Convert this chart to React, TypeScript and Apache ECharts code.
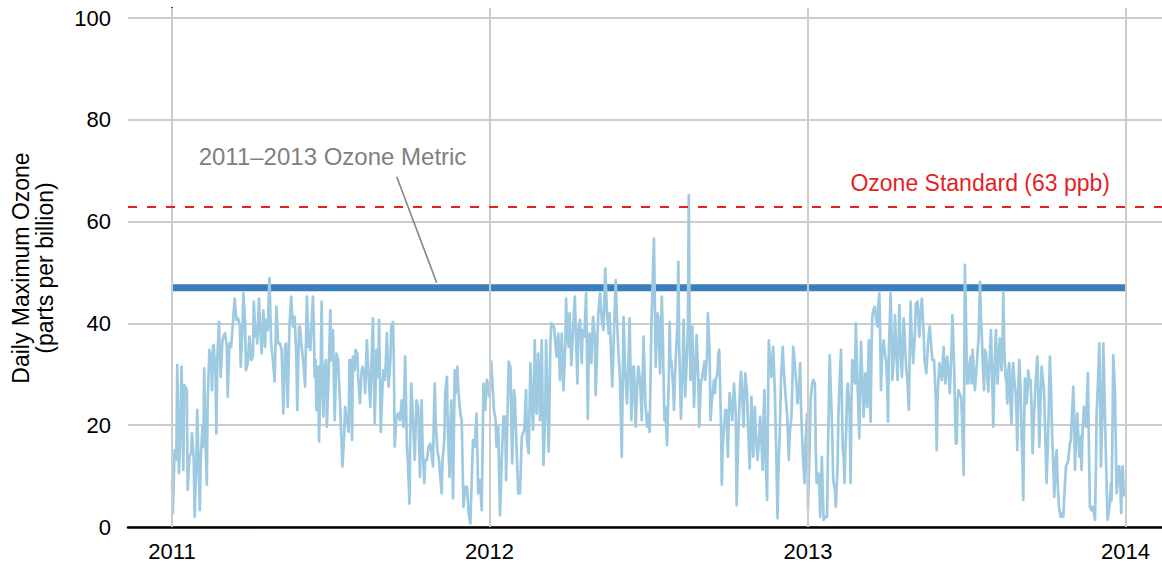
import React, { useEffect, useRef } from 'react';
import * as echarts from 'echarts';

// day index counted from 2011-01-01
const yearStarts = [0, 365, 731, 1096];
const yearLabels = ['2011', '2012', '2013', '2014'];
const metricPpb = 47;
const standardPpb = 63;
const metricLabel = '2011\u20132013 Ozone Metric';
const standardLabel = 'Ozone Standard (63 ppb)';
const yTitle = 'Daily Maximum Ozone\n(parts per billion)';

const ozone2011: [number, number][] = [
  [0,9.2],[1,2.7],[3,15.1],[5,13.2],[6,31.8],[8,10.6],[9,15.8],[11,31.5],[13,11.2],[14,27.9],[15,27.6],[17,26.9],[18,7.3],[20,13.8],[22,14.5],[23,18.4],[25,13.2],[26,2.0],[28,13.2],[29,23.0],[30,15.8],[32,3.3],[33,13.2],[35,19.7],[36,15.8],[37,31.2],[38,19.7],[40,8.3],[41,24.9],[43,34.8],[45,32.8],[46,26.9],[47,35.4],[48,35.8],[50,29.5],[51,18.4],[52,32.8],[54,40.3],[55,34.1],[56,29.5],[58,36.7],[59,37.4],[61,38.1],[63,35.4],[64,25.6],[66,36.1],[68,35.4],[70,40.0],[72,44.9],[74,40.7],[76,41.0],[78,39.4],[79,31.5],[81,38.7],[82,45.9],[84,40.3],[85,30.8],[87,32.2],[89,37.4],[91,32.8],[93,33.5],[94,44.3],[96,37.4],[97,39.4],[98,36.1],[100,44.9],[101,40.7],[103,34.1],[105,42.6],[107,35.4],[108,40.7],[110,38.7],[112,48.9],[114,36.1],[116,32.8],[118,28.6],[120,43.3],[122,36.1],[124,36.1],[126,34.8],[128,22.3],[130,35.4],[131,36.1],[133,23.6],[135,39.4],[137,45.3],[139,39.4],[141,41.3],[143,32.8],[144,23.0],[146,39.4],[147,39.4],[149,35.4],[151,32.2],[153,27.6],
  [155,45.3],[157,35.4],[158,38.7],[159,34.8],[162,45.3],[163,39.4],[164,29.5],[165,32.8],[166,23.0],[168,31.5],[169,16.8],[171,32.8],[172,44.3],[173,27.6],[174,21.7],[175,30.8],[177,32.8],[178,19.7],[180,29.5],[182,42.6],[183,32.8],[185,38.7],[187,21.0],[189,34.1],[191,32.8],[193,24.9],[196,11.9],[198,18.4],[199,23.6],[201,21.0],[203,18.7],[204,32.8],[205,32.8],[207,17.1],[208,33.5],[210,30.8],[211,34.8],[213,34.1],[214,29.5],[216,24.3],[218,30.8],[219,31.5],[221,30.2],[222,26.3],[224,36.7],[226,29.5],[228,23.6],[229,30.8],[231,41.0],[232,29.5],[233,20.4],[235,34.8],[237,29.5],[238,40.7],[240,18.7],[242,27.6],[243,30.8],[245,28.9],[247,38.1],[249,27.6],[251,32.8],[252,39.4],[254,40.3],[255,32.8],[256,15.8],[258,21.7],[260,22.3],[262,21.0],[264,24.9],[266,19.7],[268,33.5],[270,15.8],[271,13.2],[273,4.6],[274,19.7],[275,28.2],[277,21.0],[279,13.2],[281,24.9],[283,23.6],[285,9.9],[287,24.9],[288,15.8],[290,8.6],[291,13.2],[293,13.2],[295,15.8],[297,16.4],[298,15.1],[300,11.9],[301,21.7],[302,28.2],[303,21.0],[305,15.1],[307,13.2],[308,10.6],[310,6.6],[311,13.2],[313,17.1],[314,26.3],[316,29.5],[317,19.7],[319,9.9],[320,19.7],[321,24.9],[323,5.6],[325,30.8],[326,26.3],[328,31.5],[329,27.6],[330,24.9],[332,21.7],[333,21.0],[335,4.0],[337,7.9],[339,7.9],[341,2.7],[343,0.7],[344,6.6],[346,17.1],[348,15.8],[350,22.3],[352,6.6],[354,9.2],[356,3.3],
  [358,28.2],[360,23.0],[362,28.9]
];

const ozone2012: [number, number][] = [
  [365,25.6],[367,32.5],[370,23.0],[372,21.0],[373,15.8],[375,19.7],[377,2.3],[379,13.2],[381,21.7],[383,21.7],[384,9.2],[387,32.5],[389,31.5],[391,12.5],[393,26.9],[394,25.6],[396,15.8],[398,6.6],[400,6.6],[402,17.7],[405,19.1],[407,26.9],[408,17.1],[410,14.5],[412,32.2],[415,19.1],[416,26.3],[417,36.7],[419,22.3],[421,34.1],[423,21.0],[425,36.7],[427,12.2],[429,22.3],[430,36.7],[433,14.8],[435,36.7],[436,40.0],[439,39.4],[441,35.4],[442,33.5],[444,38.0],[446,28.9],[448,38.0],[450,26.9],[452,35.4],[453,44.9],[454,38.7],[456,35.4],[457,42.0],[459,31.8],[461,38.7],[463,45.3],[466,28.2],[467,38.7],[469,40.7],[471,32.2],[472,38.7],[474,37.4],[476,45.9],[478,21.3],[479,35.4],[480,38.0],[482,32.2],[484,41.3],[486,37.4],[487,25.9],[489,36.7],[490,42.0],[492,45.9],[494,40.7],[496,38.7],[498,50.8],[500,42.0],[502,38.0],[503,42.0],[506,27.6],[508,38.0],[510,48.5],[512,38.7],[513,34.8],[515,28.9],[517,13.8],[519,41.3],[521,30.2],[523,24.3],[525,34.1],[526,41.0],[528,21.0],[530,31.5],[531,31.5],[533,19.7],[535,28.9],[536,31.5],[538,28.9],[540,21.0],[542,37.4],[544,24.9],[546,19.7],[548,22.3],[549,18.7],
  [551,39.4],[554,56.7],[556,31.5],[558,42.0],[559,41.3],[561,30.2],[563,45.3],[564,38.7],[566,21.0],[567,23.6],[569,16.1],[571,28.9],[572,40.3],[573,31.5],[574,32.8],[576,27.6],[577,23.0],[578,28.9],[579,32.8],[581,40.0],[582,52.1],[583,35.4],[585,21.3],[587,31.5],[588,40.7],[590,25.6],[592,34.1],[593,39.4],[594,65.2],[595,39.4],[596,28.9],[597,34.1],[598,39.4],[600,23.6],[602,33.5],[603,37.7],[605,28.9],[606,19.7],[608,28.9],[609,28.9],[610,30.2],[612,32.5],[613,28.9],[614,31.5],[615,33.5],[616,42.0],[618,34.1],[619,21.0],[620,23.6],[621,25.6],[623,28.9],[624,26.3],[625,28.9],[627,30.2],[628,34.1],[629,34.8],[631,21.0],[632,8.3],[633,15.8],[634,18.4],[636,23.0],[637,23.0],[638,19.7],[639,13.8],[640,22.3],[641,26.3],[643,23.0],[644,21.0],[646,28.2],[648,22.3],[649,4.3],[651,18.4],[652,23.0],[653,27.6],[654,30.5],[655,27.6],[657,19.7],[658,26.3],[659,30.2],[661,26.3],[662,20.4],[664,11.5],[666,25.6],[667,21.0],[668,13.8],[670,23.6],[671,18.4],[673,13.2],[674,15.4],[676,21.7],[677,18.4],[679,11.2],[680,22.3],[681,26.9],[682,15.8],[684,5.3],[685,22.3],[686,36.7],[687,34.1],[689,29.5],[690,32.8],[691,35.4],[693,26.3],[694,18.4],[695,11.2],[696,1.7],[697,10.5],[699,21.0],[700,28.9],[702,35.4],[703,31.5],[704,28.9],[705,26.3],[707,22.3],[708,18.4],[709,13.2],[710,18.4],[712,21.7],[713,27.6],[714,35.4],[715,34.1],[716,31.5],[718,27.6],[719,24.3],[721,27.6],[722,32.2],[723,23.6],[725,14.5],[726,11.8],[727,8.6],[728,15.8],[730,22.3]
];

const ozone2013: [number, number][] = [
  [731,3.7],[733,15.8],[734,25.0],[735,26.9],[736,28.2],[737,28.9],[739,28.2],[740,15.1],[741,8.6],[743,10.5],[744,8.6],[745,2.0],[746,8.6],[747,13.8],[748,7.3],[749,1.4],[751,2.0],[753,2.0],[754,15.1],[756,33.8],[757,28.2],[758,23.6],[759,17.8],[760,9.2],[762,7.3],[763,4.0],[765,11.9],[766,21.7],[767,26.9],[769,34.8],[770,25.0],[771,15.1],[772,13.8],[773,8.6],[774,15.1],[775,19.1],[776,26.9],[777,28.2],[779,21.7],[780,8.6],[781,25.0],[782,32.8],[784,28.9],[785,28.2],[786,40.0],[788,28.2],[789,23.0],[790,17.4],[791,28.2],[792,36.4],[793,31.5],[795,21.7],[796,26.9],[797,30.2],[798,26.9],[799,23.6],[800,29.5],[801,36.7],[802,26.9],[803,20.7],[804,34.8],[805,41.3],[806,42.6],[808,43.3],[809,41.3],[811,39.4],[812,43.9],[813,45.9],[814,38.1],[815,26.9],[816,32.8],[818,36.7],[819,34.8],[821,32.2],[822,28.2],[823,20.7],[824,34.8],[826,45.9],[827,38.1],[828,28.9],[830,34.8],[831,41.6],[832,36.1],[834,28.9],[835,34.8],[836,43.6],[837,38.1],[839,29.5],[840,34.8],[841,41.0],[842,38.1],[844,30.8],[845,29.5],[847,23.0],[848,34.8],[849,44.3],[850,38.1],[852,32.2],[854,38.1],[855,43.9],[857,44.3],[858,41.3],[859,37.4],[860,41.3],[862,44.9],[863,41.3],[864,38.1],[865,32.8],[867,30.2],[868,32.8],[869,36.1],[870,38.1],[871,39.4],[873,34.8],[874,32.8],[876,32.8],[878,25.0],[879,15.1],[880,25.6],[882,32.2],[883,31.5],[885,28.9],[886,32.8],[887,35.4],[888,30.8],[889,28.2],[890,30.8],[891,33.5],[893,29.5],[894,26.3],[896,34.8],[897,41.6],[899,31.5],[900,23.0],[901,16.4],[902,16.4],[903,25.0],[904,26.9],[905,26.3],[907,25.6],[908,21.7],[910,10.2],
  [911.4,51.5],[912.6,41.3],[913.4,33.5],[914.1,28.2],[915.3,28.2],[916.4,31.5],[918.0,33.5],[919.1,28.2],[920.3,34.8],[921.8,29.5],[922.9,26.9],[924.1,29.5],[925.6,33.5],[927.2,37.4],[928.7,48.2],[929.8,41.3],[930.6,38.7],[931.8,32.8],[933.3,26.9],[934.4,34.8],[935.6,34.1],[937.1,29.5],[938.3,26.6],[939.4,31.5],[941.3,38.7],[942.9,28.2],[944.0,19.7],[945.5,31.5],[947.1,38.7],[947.8,32.8],[949.0,28.2],[950.5,34.8],[951.7,37.1],[952.4,32.8],[953.6,30.8],[954.7,36.1],[955.5,46.2],[956.7,34.8],[958.2,29.5],[959.3,28.2],[960.1,24.3],[961.3,30.8],[962.4,32.2],[963.6,25.0],[965.1,20.4],[966.2,30.8],[967.0,32.2],[968.5,28.2],[969.7,26.3],[970.8,21.7],[971.6,15.1],[972.7,26.9],[973.9,32.8],[975.4,26.9],[976.6,17.8],[977.7,11.9],[978.5,5.3],[979.6,21.7],[980.4,29.2],[981.6,26.9],[982.3,24.3],[983.5,26.9],[984.2,30.8],[985.4,28.2],[986.9,28.9],[988.1,23.0],[989.2,14.5],[990.8,21.7],[991.9,25.6],[993.1,29.5],[994.6,33.5],[995.7,26.9],[996.9,15.8],[998.4,25.0],[999.6,31.5],[1000.7,29.5],[1002.3,26.9],[1003.8,17.8],[1005.3,8.6],[1006.5,15.1],[1007.2,19.1],[1008.4,28.2],[1009.1,33.5],[1010.7,25.0],[1011.8,17.1],[1013.0,12.5],[1014.1,5.9],[1015.3,11.9],[1016.8,15.1],[1018.0,8.6],[1019.5,4.0],[1021.4,2.0],[1023.1,2.7],[1024.5,2.0],[1026.0,7.3],[1027.5,11.9],[1029.1,12.5],[1030.2,13.2],[1031.4,15.1],[1032.1,16.4],[1033.3,17.1],[1034.4,21.7],[1036.0,27.6],[1037.1,20.4],[1037.9,11.2],[1039.0,17.8],[1040.6,22.3],[1041.7,17.8],[1042.9,13.8],[1044.4,17.8],[1045.5,11.2],[1046.7,19.1],[1048.2,23.6],[1049.4,20.4],[1050.5,19.7],[1051.7,25.0],[1052.8,30.2],[1054.0,15.1],[1055.1,4.0],[1056.7,3.3],[1058.2,4.0],[1059.7,2.7],[1060.9,1.4],[1062.0,11.9],[1062.8,22.3],[1064.3,28.2],[1065.9,36.1],[1066.6,28.2],[1067.8,11.9],[1069.3,21.7],[1070.5,36.1],[1071.6,28.2],[1073.1,16.4],[1074.3,8.6],[1075.4,1.4],[1077.0,3.3],[1078.1,4.6],[1079.3,8.6],[1080.0,5.3],[1081.2,21.7],[1081.9,33.8],[1083.1,29.5],[1083.9,26.3],[1085.0,15.1],[1085.8,6.6],[1087.3,9.9],[1088.8,11.9],[1090.0,8.6],[1091.1,2.7],[1091.9,8.6],[1092.7,11.9],[1093.8,7.3],[1094.6,6.0]
];

const FONT = '"Liberation Sans", Arial, Helvetica, sans-serif';

export default function App() {
  const ref = useRef<HTMLDivElement>(null);
  useEffect(() => {
    if (!ref.current) return;
    const chart = echarts.init(ref.current, null, { renderer: 'svg' });
    const ozone = [...ozone2011, ...ozone2012, ...ozone2013];
    chart.setOption({
      animation: false,
      backgroundColor: '#ffffff',
      grid: { left: 128, right: 0, top: 8, bottom: 39, containLabel: false },
      xAxis: {
        type: 'value',
        min: -50.58,
        max: 1137.95,
        axisLine: { show: true, onZero: false, lineStyle: { color: '#000', width: 2.5 } },
        axisTick: { show: false },
        splitLine: { show: false },
        axisLabel: {
          customValues: yearStarts,
          formatter: (v: number) => {
            const i = yearStarts.indexOf(v);
            return i >= 0 ? yearLabels[i] : '';
          },
          color: '#000',
          fontSize: 22,
          fontFamily: FONT,
          margin: 13,
        },
      },
      yAxis: {
        type: 'value',
        min: 0,
        max: 102,
        interval: 20,
        axisLine: { show: true, lineStyle: { color: '#000', width: 2 } },
        axisTick: { show: false },
        splitLine: { show: true, showMaxLine: false, lineStyle: { color: '#cccccc', width: 2 } },
        axisLabel: { showMaxLabel: false, color: '#000', fontSize: 22, fontFamily: FONT, margin: 17 },
      },
      series: [
        {
          name: 'guides',
          type: 'line',
          data: [],
          z: 1,
          silent: true,
          markLine: {
            silent: true,
            symbol: ['none', 'none'],
            label: { show: false },
            emphasis: { disabled: true },
            data: [
              ...yearStarts.map((d) => ({ xAxis: d, lineStyle: { color: '#cccccc', width: 2, type: 'solid' } })),
              { yAxis: standardPpb, lineStyle: { color: '#e41f26', width: 2, type: [9, 10] } },
            ],
          },
        },
        {
          name: 'metric',
          type: 'line',
          z: 2,
          silent: true,
          symbol: 'none',
          data: [[yearStarts[0], metricPpb], [yearStarts[3], metricPpb]],
          lineStyle: { color: '#3a7eba', width: 7, cap: 'butt' },
        },
        {
          name: 'ozone',
          type: 'line',
          z: 3,
          silent: true,
          symbol: 'none',
          data: ozone,
          lineStyle: { color: '#9ecae1', width: 2.7, join: 'round' },
        },
      ],
      graphic: [
        {
          type: 'text',
          x: 332.5,
          y: 156,
          z: 10,
          style: { text: metricLabel, fill: '#808080', fontSize: 24, fontFamily: FONT, align: 'center', verticalAlign: 'middle' },
        },
        {
          type: 'line',
          z: 10,
          shape: { x1: 396.7, y1: 176.7, x2: 436.7, y2: 282.7 },
          style: { stroke: '#858585', lineWidth: 1.6 },
        },
        {
          type: 'text',
          x: 1110,
          y: 182.5,
          z: 10,
          style: { text: standardLabel, fill: '#e41f26', fontSize: 23, fontFamily: FONT, align: 'right', verticalAlign: 'middle' },
        },
        {
          type: 'text',
          x: 33,
          y: 268,
          rotation: Math.PI / 2,
          z: 10,
          style: { text: yTitle, fill: '#000', fontSize: 23, lineHeight: 24, fontFamily: FONT, align: 'center', verticalAlign: 'middle' },
        },
      ],
    });
    return () => chart.dispose();
  }, []);
  return <div ref={ref} style={{ position: 'absolute', left: 0, top: 0, width: 1162, height: 566 }} />;
}
